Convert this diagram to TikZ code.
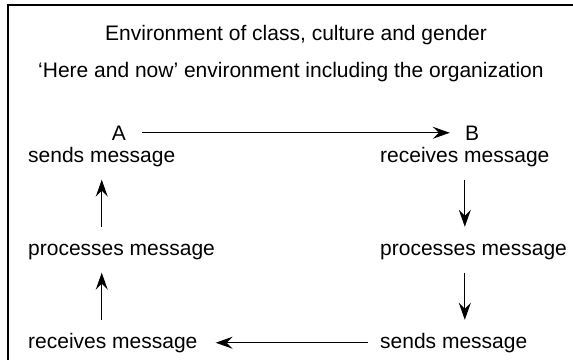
\documentclass[tikz,border=0pt]{standalone}
\usepackage{fontspec}
\setmainfont{Liberation Sans}
\usetikzlibrary{arrows.meta,positioning,calc}
\tikzset{%
    frame/.style={%
        draw, line width=1.4pt
    },
    heading/.style={%
        anchor=base west, inner sep=3pt, font=\fontsize{21}{25}\selectfont
    },
    msg/.style={%
        anchor=base west, inner sep=3pt, text height=15pt, text depth=4.5pt, font=\fontsize{21}{25}\selectfont
    },
    party/.style={%
        anchor=base, inner sep=3pt, font=\fontsize{21}{25}\selectfont
    },
    flow/.style={%
        -{Stealth[length=17pt,width=12pt,inset=6pt]}, line width=1.2pt, shorten >=10pt, shorten <=10pt
    },
}

\begin{document}
\begin{tikzpicture}[x=1pt,y=-1pt]
    \useasboundingbox (0,0) rectangle (573,359);
    \draw[frame] (590,5) -| (8,375);

    \node[heading] (env) at (102,40) {Environment of class, culture and gender};
    \node[heading] (org) at (35,77) {`Here and now' environment including the organization};

    \node[party] (A) at (119,140) {A};
    \node[party] (B) at (472,140) {B};

    % left column, bottom to top
    \node[msg] (sendA) at (25,162) {sends message};
    \node[msg] (procA) at (25,255) {processes message};
    \node[msg] (recvA) at (25,348) {receives message};
    % right column, top to bottom
    \node[msg] (recvB) at (377,162) {receives message};
    \node[msg] (procB) at (377,255) {processes message};
    \node[msg] (sendB) at (377,348) {sends message};

    \draw[flow, shorten <=13pt, shorten >=12pt] (A) -- (B);
    \draw[flow] (procA.north -| sendA) -- (sendA.south);
    \draw[flow] (recvA.north -| sendA) -- (procA.south -| sendA);
    \draw[flow] (recvB.south) -- (procB.north -| recvB);
    \draw[flow] (procB.south -| recvB) -- (sendB.north -| recvB);
    \draw[flow, shorten <=9pt, shorten >=15pt] (sendB.west) -- (recvA.east);

  \end{tikzpicture}
\end{document}
